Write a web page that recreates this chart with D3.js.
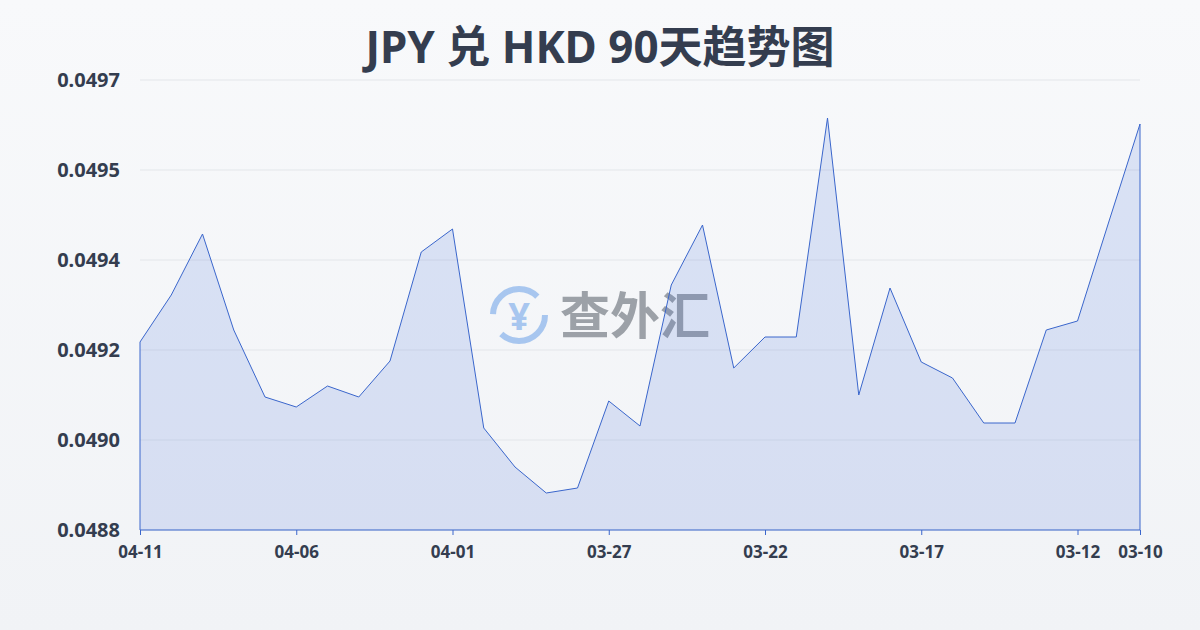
<!DOCTYPE html>
<html><head><meta charset="utf-8">
<script src="https://cdn.jsdelivr.net/npm/d3@7"></script>
<style>body{margin:0;}svg{display:block;font-family:"Noto Sans","Noto Sans CJK SC",sans-serif;}</style>
</head><body>
<script>
const dates = ["04-11","04-10","04-09","04-08","04-07","04-06","04-05","04-04","04-03","04-02","04-01",
  "03-31","03-30","03-29","03-28","03-27","03-26","03-25","03-24","03-23","03-22","03-21","03-20",
  "03-19","03-18","03-17","03-16","03-15","03-14","03-13","03-12","03-11","03-10"];
const rates = [0.049176,0.04927,0.049392,0.0492,0.049066,0.049046,0.049088,0.049066,0.049138,0.049356,0.049402,
  0.049004,0.048926,0.048874,0.048884,0.049058,0.049008,0.04929,0.04941,0.049124,0.049186,0.049186,0.049624,
  0.04907,0.049284,0.049136,0.049104,0.049014,0.049014,0.0492,0.049218,0.049416,0.049612];
const xTicks = ["04-11","04-06","04-01","03-27","03-22","03-17","03-12","03-10"];
const yTickLabels = ["0.0488","0.0490","0.0492","0.0494","0.0495","0.0497"];

const W = 1200, H = 630, m = {l:140, r:60, t:80, b:100};
const svg = d3.select("body").append("svg").attr("width", W).attr("height", H);
const defs = svg.append("defs");
const bg = defs.append("linearGradient").attr("id","bg").attr("x1",0).attr("y1",0).attr("x2",0).attr("y2",1);
bg.append("stop").attr("offset",0).attr("stop-color","#f8f9fb");
bg.append("stop").attr("offset",1).attr("stop-color","#f1f3f6");
svg.append("rect").attr("width",W).attr("height",H).attr("fill","url(#bg)");

svg.append("text").attr("x",W/2).attr("y",63).attr("text-anchor","middle")
  .attr("font-size",44).attr("font-weight","bold").attr("fill","#343d4f").text("JPY 兑 HKD 90天趋势图");

const x = d3.scalePoint().domain(dates).range([m.l, W - m.r]);
const y = d3.scaleLinear().domain([0.0488, 0.0497]).range([H - m.b, m.t]);
const yTicks = d3.range(yTickLabels.length).map(i => 0.0488 + i * 0.0009 / (yTickLabels.length - 1));

svg.append("g").selectAll("line").data(yTicks).join("line")
  .attr("x1", m.l).attr("x2", W - m.r).attr("y1", d => y(d)).attr("y2", d => y(d))
  .attr("stroke", "#e3e6ea").attr("stroke-width", 1);
svg.append("g").selectAll("text").data(yTicks).join("text")
  .attr("x", 120).attr("y", d => y(d) + 7).attr("text-anchor","end")
  .attr("font-size", 20).attr("font-weight","bold").attr("fill","#343d4f")
  .text((d,i) => yTickLabels[i]);

// watermark
const wm = svg.append("g").attr("opacity",0.55);
wm.append("circle").attr("cx",519).attr("cy",315).attr("r",26).attr("fill","none")
  .attr("stroke","#6aa0e8").attr("stroke-width",6).attr("stroke-dasharray","60 22");
wm.append("text").attr("x",519).attr("y",330).attr("text-anchor","middle").attr("font-size",38)
  .attr("font-weight","bold").attr("fill","#6aa0e8").text("¥");
wm.append("text").attr("x",560).attr("y",334).attr("font-size",50).attr("font-weight","bold")
  .attr("fill","#555c66").text("查外汇");

const area = d3.area().x((d,i) => x(dates[i])).y0(H - m.b).y1(d => y(d));
const line = d3.line().x((d,i) => x(dates[i])).y(d => y(d));
svg.append("path").datum(rates).attr("d", area).attr("fill","rgba(70,110,220,0.16)");
svg.append("path").datum(rates).attr("d", line).attr("fill","none").attr("stroke","#3a66cc").attr("stroke-width",1);
svg.append("line").attr("x1",m.l).attr("x2",m.l).attr("y1",y(rates[0])).attr("y2",H-m.b).attr("stroke","#3a66cc");
svg.append("line").attr("x1",W-m.r).attr("x2",W-m.r).attr("y1",y(rates[rates.length-1])).attr("y2",H-m.b).attr("stroke","#3a66cc");
svg.append("line").attr("x1",m.l).attr("x2",W-m.r).attr("y1",H-m.b).attr("y2",H-m.b).attr("stroke","#3a66cc");

const xa = svg.append("g").attr("transform",`translate(0,${H-m.b})`)
  .call(d3.axisBottom(x).tickValues(xTicks).tickSize(5).tickFormat(d => d));
xa.select(".domain").remove();
xa.selectAll("line").attr("stroke","#3a66cc");
xa.selectAll("text").attr("font-size",17).attr("font-weight","bold").attr("fill","#343d4f")
  .attr("dy","1.2em").attr("font-family","\"Noto Sans\",sans-serif");
</script>
</body></html>
